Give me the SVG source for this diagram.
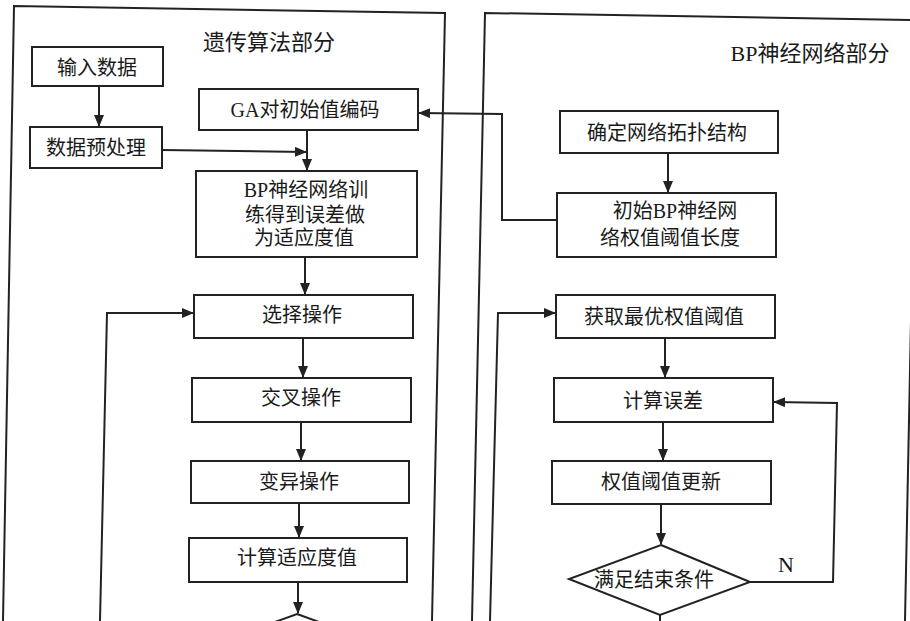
<svg xmlns="http://www.w3.org/2000/svg" width="910" height="621" viewBox="0 0 910 621">
<style>
.box{fill:#fff;stroke:#222;stroke-width:2}
.panel{fill:none;stroke:#222;stroke-width:2}
.ln{fill:none;stroke:#222;stroke-width:2}
.t{font-family:"Liberation Serif","Noto Sans CJK SC",serif;font-size:20px;fill:#1a1a1a;text-anchor:middle;dominant-baseline:central}
.h{font-size:22px}
.n{font-size:22px}
</style>
<defs>
<marker id="ah" markerWidth="12" markerHeight="10" refX="11" refY="5" orient="auto" markerUnits="userSpaceOnUse">
<path d="M0,0 L12,5 L0,10 Z" fill="#222"/>
</marker>
</defs>
<rect width="910" height="621" fill="#fff"/>
<g id="panel-ga">
<path class="panel" d="M3,621 L14,6 L445,13 L432,621"/>
<text class="t h" x="269" y="42">遗传算法部分</text>
</g>
<g id="panel-bp">
<path class="panel" d="M472,621 L485,13 L916,20"/>
<path class="panel" d="M917,20 L905,621"/>
<text class="t h" x="810" y="53">BP神经网络部分</text>
</g>
<g id="connectors">
<path class="ln" d="M99,86 L99,126" marker-end="url(#ah)"/>
<path class="ln" d="M162,150 L306,152" marker-end="url(#ah)"/>
<path class="ln" d="M307,130 L307,170" marker-end="url(#ah)"/>
<path class="ln" d="M557,220 L502,220 L502,114 L419,113" marker-end="url(#ah)"/>
<path class="ln" d="M305,257 L305,294" marker-end="url(#ah)"/>
<path class="ln" d="M100,621 L107,313 L193,313" marker-end="url(#ah)"/>
<path class="ln" d="M303,338 L303,377" marker-end="url(#ah)"/>
<path class="ln" d="M301,422 L301,460" marker-end="url(#ah)"/>
<path class="ln" d="M299,503 L299,537" marker-end="url(#ah)"/>
<path class="ln" d="M298,582 L298,613" marker-end="url(#ah)"/>
<path class="ln" d="M668,153 L668,192" marker-end="url(#ah)"/>
<path class="ln" d="M490,621 L498,313 L555,313" marker-end="url(#ah)"/>
<path class="ln" d="M665,338 L665,377" marker-end="url(#ah)"/>
<path class="ln" d="M663,422 L663,460" marker-end="url(#ah)"/>
<path class="ln" d="M661,504 L661,544" marker-end="url(#ah)"/>
<path class="ln" d="M750,582 L833,582 L837,403 L774,402" marker-end="url(#ah)"/>
<path class="ln" d="M660,615 L660,621"/>
<text class="t n" x="786" y="564">N</text>
</g>
<g id="n-input">
<rect class="box" x="32" y="47" width="131" height="39"/>
<text class="t" x="97" y="68">输入数据</text>
</g>
<g id="n-preprocess">
<rect class="box" x="30" y="127" width="132" height="41"/>
<text class="t" x="96" y="148">数据预处理</text>
</g>
<g id="n-ga-encode">
<rect class="box" x="199" y="89" width="219" height="41"/>
<text class="t" x="305" y="110">GA对初始值编码</text>
</g>
<g id="n-bp-train">
<rect class="box" x="196" y="171" width="221" height="86"/>
<text class="t" x="306" y="190">BP神经网络训</text>
<text class="t" x="305" y="215">练得到误差做</text>
<text class="t" x="304" y="238">为适应度值</text>
</g>
<g id="n-select">
<rect class="box" x="194" y="295" width="219" height="43"/>
<text class="t" x="302" y="315">选择操作</text>
</g>
<g id="n-cross">
<rect class="box" x="192" y="378" width="219" height="44"/>
<text class="t" x="301" y="398">交叉操作</text>
</g>
<g id="n-mutate">
<rect class="box" x="191" y="461" width="218" height="42"/>
<text class="t" x="299" y="482">变异操作</text>
</g>
<g id="n-fitness">
<rect class="box" x="189" y="538" width="218" height="44"/>
<text class="t" x="297" y="558">计算适应度值</text>
</g>
<g id="n-ga-decision">
<polygon class="box" points="297,614 388,647 297,680 206,647"/>
</g>
<g id="n-topology">
<rect class="box" x="560" y="111" width="218" height="42"/>
<text class="t" x="667" y="133">确定网络拓扑结构</text>
</g>
<g id="n-init-bp">
<rect class="box" x="557" y="193" width="219" height="64"/>
<text class="t" x="675" y="211">初始BP神经网</text>
<text class="t" x="670" y="238">络权值阈值长度</text>
</g>
<g id="n-best">
<rect class="box" x="556" y="295" width="219" height="43"/>
<text class="t" x="664" y="317">获取最优权值阈值</text>
</g>
<g id="n-error">
<rect class="box" x="554" y="378" width="219" height="44"/>
<text class="t" x="663" y="401">计算误差</text>
</g>
<g id="n-update">
<rect class="box" x="552" y="461" width="219" height="43"/>
<text class="t" x="661" y="482">权值阈值更新</text>
</g>
<g id="n-end-cond">
<polygon class="box" points="661,545 750,582 660,615 569,579"/>
<text class="t" x="654" y="580">满足结束条件</text>
</g>
</svg>
